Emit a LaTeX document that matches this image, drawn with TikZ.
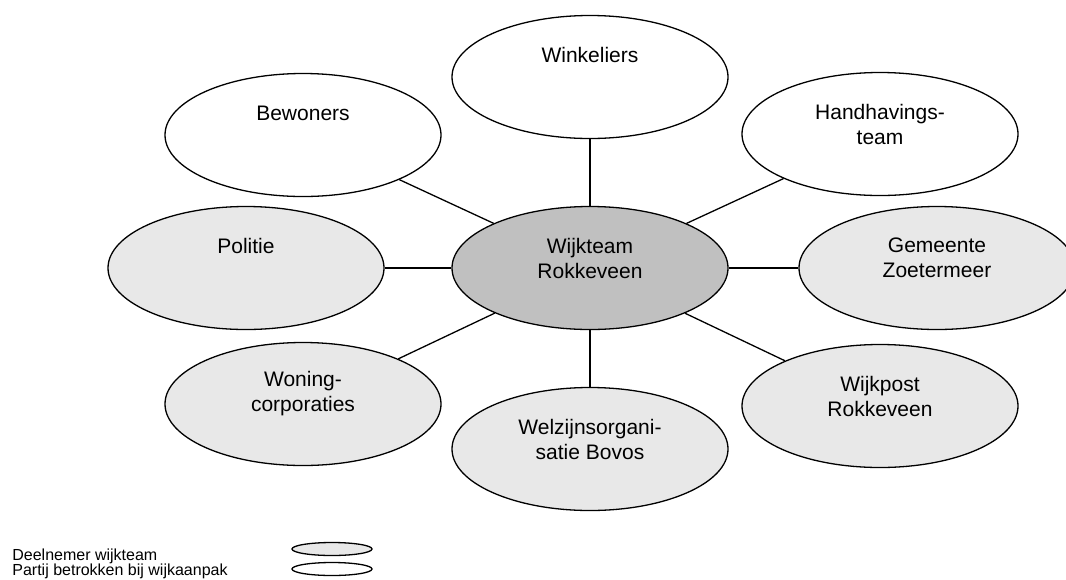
\documentclass[tikz,border=0pt]{standalone}
\usepackage{fontspec}
\setmainfont{Liberation Sans}
\definecolor{grijs}{RGB}{192,192,192}
\definecolor{lichtgrijs}{RGB}{232,232,232}
\usepackage{tikz}
\usetikzlibrary{shapes.geometric, positioning}

\begin{document}
\begin{tikzpicture}[x=0.5pt, y=-0.5pt,
  partij/.style={ellipse, draw=black, line width=0.65pt, minimum width=138pt, minimum height=61.5pt, inner sep=0pt},
  deelnemer/.style={partij, fill=lichtgrijs},
  kern/.style={partij, fill=grijs},
  naam/.style={yshift=11pt, align=center, inner sep=0pt, font=\fontsize{10.5}{12.5}\selectfont},
  naamtwee/.style={naam, yshift=-6pt},
  verbinding/.style={line width=0.65pt}]
  \useasboundingbox (0,0) rectangle (1066,579);

  \node[kern, label={[naamtwee]center:Wijkteam\\Rokkeveen}] (wijkteam) at (590,268) {};
  \node[partij, label={[naam]center:Winkeliers}] (winkeliers) at (590,77) {};
  \node[partij, label={[naam]center:Bewoners}] (bewoners) at (303,135) {};
  \node[partij, label={[naamtwee]center:Handhavings-\\team}] (handhaving) at (880,134) {};
  \node[deelnemer, label={[naam]center:Politie}] (politie) at (246,268) {};
  \node[deelnemer, label={[naamtwee]center:Gemeente\\Zoetermeer}] (gemeente) at (937,268) {};
  \node[deelnemer, label={[naamtwee]center:Woning-\\corporaties}] (woning) at (303,404) {};
  \node[deelnemer, label={[naamtwee]center:Welzijnsorgani-\\satie Bovos}] (welzijn) at (590,449) {};
  \node[deelnemer, label={[naamtwee]center:Wijkpost\\Rokkeveen}] (wijkpost) at (880,406) {};

  \foreach \n in {winkeliers, bewoners, handhaving, politie, gemeente, woning, welzijn, wijkpost}
    \draw[verbinding] (wijkteam) -- (\n);

  \node[anchor=north west, align=left, inner sep=0pt, font=\fontsize{8}{7.75}\selectfont] (legenda) at (12,548) {Deelnemer wijkteam\\Partij betrokken bij wijkaanpak};
  \node[deelnemer, minimum width=40pt, minimum height=6.5pt] (legdeel) at (332,549) {};
  \node[partij, minimum width=40pt, minimum height=6.5pt] (legpartij) at (332,569) {};
\end{tikzpicture}
\end{document}
